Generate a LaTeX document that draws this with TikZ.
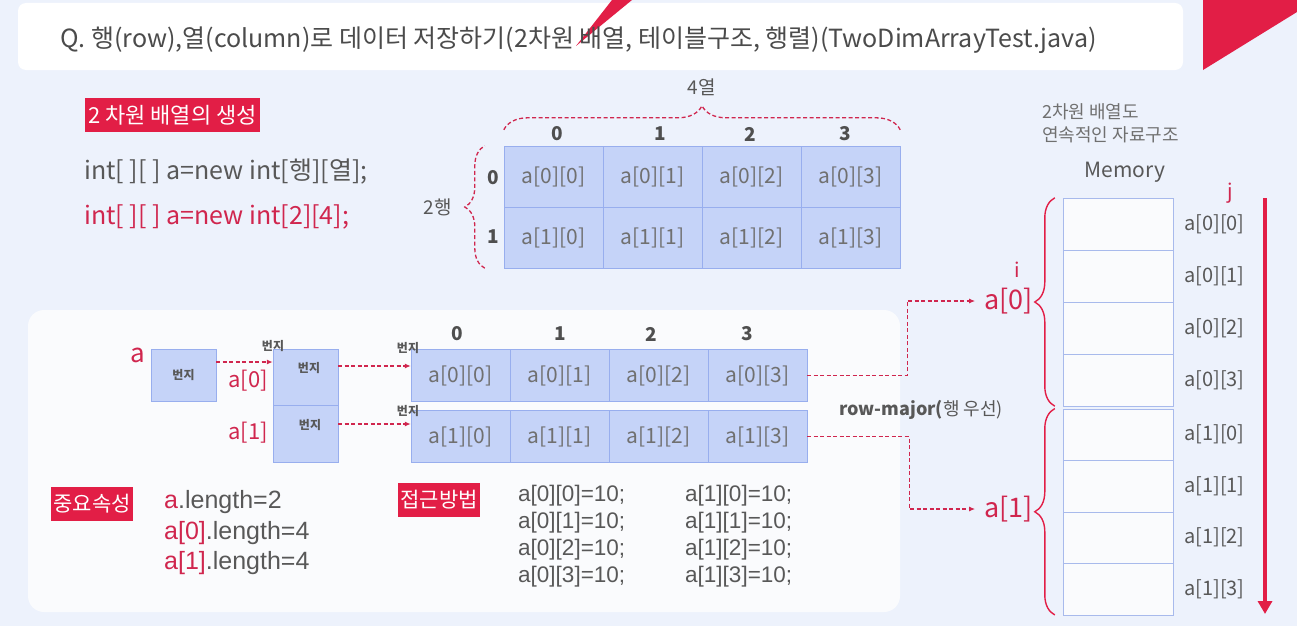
\documentclass[tikz,border=0pt]{standalone}
\usepackage{fontspec}
\setmainfont{Noto Sans CJK KR}
\newfontfamily\codefont{Liberation Sans}
\usetikzlibrary{positioning,decorations.pathreplacing,arrows.meta}

\definecolor{bgblue}{RGB}{237,242,252}
\definecolor{paper}{RGB}{250,251,253}
\definecolor{accent}{RGB}{226,30,70}
\definecolor{redtext}{RGB}{208,38,78}
\definecolor{cellfill}{RGB}{197,211,248}
\definecolor{cellline}{RGB}{152,174,238}
\definecolor{memline}{RGB}{168,186,236}
\definecolor{inkgray}{RGB}{88,88,88}
\definecolor{softgray}{RGB}{112,112,112}

\newcommand{\fsz}[1]{\fontsize{#1}{#1}\selectfont}

\tikzset{
  gridcell/.style={draw=cellline, fill=cellfill, minimum width=99, minimum height=61, inner sep=0, text=softgray, font=\fsz{21}},
  memcell/.style={draw=memline, fill=paper, minimum width=110, minimum height=52, inner sep=0},
  ptrbox/.style={draw=cellline, fill=cellfill, minimum width=65, inner sep=0},
  redtag/.style={fill=accent, text=white, font=\fsz{21}, inner xsep=2, inner ysep=0, minimum height=34},
  headnum/.style={font=\fsz{19}\bfseries, text=inkgray!90!black},
  tinytxt/.style={font=\fsz{12}\bfseries, text=inkgray, inner sep=0},
  redlbl/.style={text=redtext, inner sep=1},
  codetext/.style={font=\codefont\fsz{25}, text=inkgray, inner sep=0},
  ptr/.style={redtext, dashed, dash pattern=on 4pt off 2.5pt, line width=1.3, -{Latex[length=6pt,width=5pt]}},
  dbrace/.style={redtext, line width=1.3, dashed, dash pattern=on 4pt off 2.5pt, decorate},
  rbrace/.style={accent, line width=1.4, decorate, decoration={brace, amplitude=20pt}},
}

\begin{document}
\begin{tikzpicture}[x=1pt, y=-1pt]
  \useasboundingbox (0,0) rectangle (1297,626);
  \fill[bgblue] (0,0) rectangle (1297,626);

  % title bar and corner marks
  \fill[white, rounded corners=8] (18,3) rectangle (1183,70);
  \fill[accent] (612,0) -- (632,0) -- (576,46) -- cycle;
  \fill[accent] (1203,0) -- (1297,0) -- (1297,12) -- (1203,70) -- cycle;
  \node[anchor=west, font=\fsz{25}, text=inkgray!85!black, inner sep=0] (title) at (60,40) {Q. 행(row),열(column)로 데이터 저장하기(2차원 배열, 테이블구조, 행렬)(TwoDimArrayTest.java)};

  % declaration
  \node[redtag, font=\fsz{22}, minimum width=175] (tagmake) at (172.5,115) {2 차원 배열의 생성};
  \node[anchor=west, font=\fsz{25}, text=inkgray, inner sep=0] (decl) at (84,172) {int[ ][ ] a=new int[행][열];};
  \node[anchor=west, font=\fsz{25}, text=redtext, inner sep=0] (declnum) at (84,217) {int[ ][ ] a=new int[2][4];};

  % table view
  \foreach \i in {0,1}
    \foreach \j in {0,...,3}
      \node[gridcell] (t\i\j) at (553.5+99*\j,176.5+61*\i) {a[\i][\j]};
  \foreach \j/\x in {0/557,1/660,2/750,3/845}
    \node[headnum] (th\j) at (\x,134) {\j};
  \node[headnum] (tr0) at (493,178) {0};
  \node[headnum] (tr1) at (493,237) {1};
  \draw[dbrace, decoration={brace, amplitude=24pt}] ([yshift=16pt]t00.north west) -- ([yshift=16pt]t03.north east);
  \node[font=\fsz{19}, text=inkgray] (ncol) at (702,87) {4열};
  \draw[dbrace, decoration={brace, amplitude=20pt}] ([xshift=-19pt]t10.south west) -- ([xshift=-19pt]t00.north west);
  \node[font=\fsz{19}, text=inkgray] (nrow) at (438,207) {2행};

  % reference layout
  \fill[paper, rounded corners=16] (28,310) rectangle (900,612);
  \node[redlbl, font=\fsz{26}] (va) at (138,355) {a};
  \node[ptrbox, minimum height=52, tinytxt] (pa) at (183.5,375) {번지};
  \node[ptrbox, minimum height=56] (s0) at (305.5,377) {};
  \node[ptrbox, minimum height=57] (s1) at (305.5,433.5) {};
  \node[tinytxt] (s0t) at (309,368) {번지};
  \node[tinytxt] (s1t) at (310,425) {번지};
  \node[tinytxt] (s0n) at (273,346) {번지};
  \node[redlbl, font=\fsz{22}, anchor=east] (la0) at (269,381) {a[0]};
  \node[redlbl, font=\fsz{22}, anchor=east] (la1) at (269,433) {a[1]};

  \foreach \i/\y in {0/375.5,1/436.5}
    \foreach \j in {0,...,3}
      \node[gridcell, minimum height=52] (r\i\j) at (460.5+99*\j,\y) {a[\i][\j]};
  \foreach \j/\x in {0/457,1/560,2/651,3/747}
    \node[headnum] (rh\j) at (\x,334) {\j};
  \node[tinytxt] (r0n) at (408,348) {번지};
  \node[tinytxt] (r1n) at (408,411) {번지};

  \draw[ptr] ([yshift=13pt]pa.east) -- ([yshift=13pt]pa.east -| s0.west);
  \draw[ptr] ([yshift=11pt]s0.east) -- ([yshift=11pt]s0.east -| r00.west);
  \draw[ptr] ([yshift=9.5pt]s1.east) -- ([yshift=9.5pt]s1.east -| r10.west);

  % properties and access
  \node[redtag] (tagprop) at (92,504) {중요속성};
  \node[codetext, anchor=west] (len0) at (164,502) {\textcolor{redtext}{a}.length=2};
  \node[codetext, anchor=west] (len1) at (164,533) {\textcolor{redtext}{a[0]}.length=4};
  \node[codetext, anchor=west] (len2) at (164,563) {\textcolor{redtext}{a[1]}.length=4};
  \node[redtag] (tagacc) at (439,499.5) {접근방법};
  \foreach \j/\y in {0/496,1/523,2/550,3/577} {
    \node[codetext, font=\codefont\fsz{22.5}, anchor=west] (ac0\j) at (518,\y) {a[0][\j]=10;};
    \node[codetext, font=\codefont\fsz{22.5}, anchor=west] (ac1\j) at (685,\y) {a[1][\j]=10;};
  }

  % memory
  \node[anchor=west, align=left, font=\fontsize{18}{23}\selectfont, text=softgray, inner sep=0] (memnote) at (1042,123.5) {2차원 배열도\\연속적인 자료구조};
  \node[font=\fsz{21}, text=inkgray] (memtitle) at (1125,172) {Memory};
  \foreach \j in {0,...,3} {
    \node[memcell] (m0\j) at (1118,224+52*\j) {};
    \node[memcell, minimum height=51.5] (m1\j) at (1118,434.5+51.5*\j) {};
    \node[font=\fsz{20}, text=inkgray, anchor=west, inner sep=0] (l0\j) at (1184,224+52*\j) {a[0][\j]};
    \node[font=\fsz{20}, text=inkgray, anchor=west, inner sep=0] (l1\j) at (1184,434.5+51.5*\j) {a[1][\j]};
  }
  \draw[rbrace] ([xshift=-8pt]m03.south west) -- ([xshift=-8pt]m00.north west);
  \draw[rbrace] ([xshift=-8pt]m13.south west) -- ([xshift=-8pt]m10.north west);
  \node[redlbl, font=\fsz{27}, anchor=east] (ma0) at (1034,301) {a[0]};
  \node[redlbl, font=\fsz{27}, anchor=east] (ma1) at (1034,509) {a[1]};
  \node[redlbl, font=\fsz{20}] (vi) at (1017,270) {i};
  \node[redlbl, font=\fsz{20}] (vj) at (1230,193) {j};
  \coordinate (jtop) at (1265,198);
  \coordinate (jbot) at (1265,614);
  \draw[accent, line width=4.5, -{Triangle[width=14pt,length=13pt]}] (jtop) -- (jbot);

  \draw[ptr, shorten >=8pt] (r03.east) -| ([xshift=-76pt]ma0.west) -- (ma0.west);
  \draw[ptr, shorten >=8pt] (r13.east) -| ([xshift=-74pt]ma1.west) -- (ma1.west);
  \node[font=\fsz{18}, text=inkgray] (order) at (921,410) {\textbf{row-major(}행 우선)};
\end{tikzpicture}
\end{document}
